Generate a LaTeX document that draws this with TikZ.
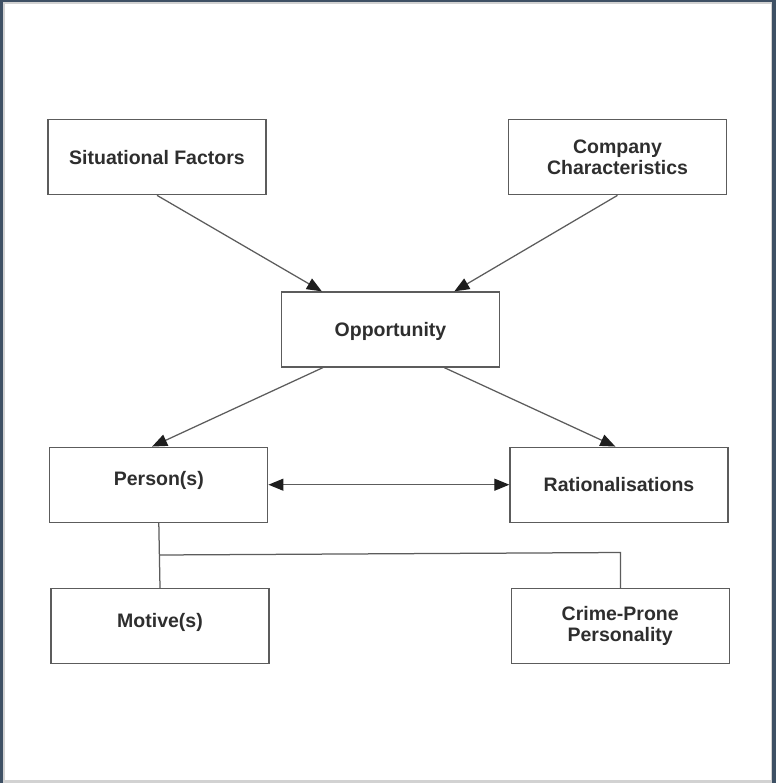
\documentclass[tikz,border=0pt]{standalone}
\usepackage{fontspec}
\setmainfont{Liberation Sans}
\usetikzlibrary{arrows.meta,calc}
\definecolor{framedark}{HTML}{3E5064}
\definecolor{framelight}{HTML}{D2D2D2}
\definecolor{edge}{HTML}{5C5C5C}
\definecolor{ink}{HTML}{2E2E2E}
\definecolor{tipc}{HTML}{1E1E1E}
\tikzset{
  boxfont/.style={font=\fontsize{19.5pt}{21.7pt}\selectfont\bfseries},
  box/.style={draw=edge, line width=1.3pt, fill=white, minimum width=218pt,
    minimum height=75pt, inner sep=0pt, align=center, text=ink, boxfont},
  oneline/.style={text depth=0pt},
  raised/.style={label={[text=ink, boxfont, yshift=4pt]center:#1}},
  link/.style={draw=edge, line width=1.25pt},
  arr/.style={link, -{Triangle[length=15pt,width=12pt,color=tipc]}},
  darr/.style={link, {Triangle[length=15pt,width=12pt,color=tipc]}-{Triangle[length=15pt,width=12pt,color=tipc]}}
}
\begin{document}
\begin{tikzpicture}[x=1pt,y=-1pt]
  % window frame
  \fill[framedark] (0,0) rectangle (776,783);
  \fill[framelight] (3,2) rectangle (772,783);
  \fill[white] (5,4) rectangle (771,780);
  \useasboundingbox (0,0) rectangle (776,783);

  % boxes
  \node[box, oneline] (sit)   at (157,157.2) {Situational Factors};
  \node[box] (comp)  at (617.5,157.2) {Company\\Characteristics};
  \node[box, oneline] (opp)   at (390.5,329.5) {Opportunity};
  \node[box, raised=Person(s)] (pers) at (158.8,484.7) {};
  \node[box, oneline] (rat)   at (619,484.7) {Rationalisations};
  \node[box, raised=Motive(s)] (mot) at (160,626) {};
  \node[box] (crime) at (620.2,626) {Crime-Prone\\Personality};

  % arrows into and out of Opportunity
  \draw[arr] (sit.south) -- ($(opp.north west)+(41,0)$);
  \draw[arr] (comp.south) -- ($(opp.north west)+(173.5,0)$);
  \draw[arr] ($(opp.south west)+(42,0)$) -- ($(pers.north west)+(103,0)$);
  \draw[arr] ($(opp.south west)+(163.5,0)$) -- ($(rat.north west)+(106,0)$);

  % two-way link
  \draw[darr] (pers.east) -- (rat.west);

  % tree below Person(s)
  \coordinate (j) at (159.6,555);
  \coordinate (k) at (620.5,552.5);
  \draw[link] (pers.south) -- (mot.north);
  \draw[link] (j) -- (k) -- (k |- crime.north);
\end{tikzpicture}
\end{document}
